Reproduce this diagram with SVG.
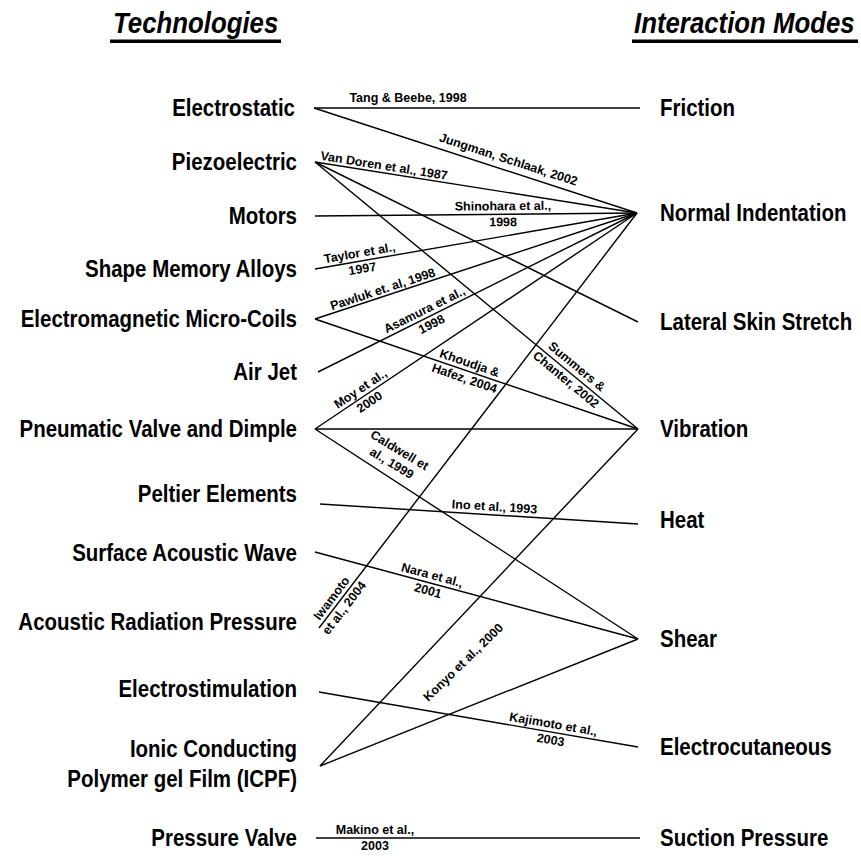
<svg xmlns="http://www.w3.org/2000/svg" width="861" height="857" viewBox="0 0 861 857">
<style>
.n text{font-family:"Liberation Sans",Arial,sans-serif;font-weight:bold;font-size:23px;fill:#000}
.l text{text-anchor:end}
.t text{font-family:"Liberation Sans",Arial,sans-serif;font-weight:bold;font-style:italic;font-size:30px;fill:#000}
.lb{font-family:"Liberation Sans",Arial,sans-serif;font-weight:bold;font-size:12.5px;fill:#000;text-anchor:middle}
#connectors line{stroke:#000;stroke-width:1.4;fill:none}
</style>
<rect width="861" height="857" fill="#fff"/>
<g id="title-technologies" class="t"><text transform="translate(113,33) scale(0.86,1)">Technologies</text><rect x="110" y="39.5" width="171" height="3.5" fill="#000"/></g>
<g id="title-modes" class="t"><text transform="translate(634,33) scale(0.86,1)">Interaction Modes</text><rect x="632" y="39.5" width="226" height="3.5" fill="#000"/></g>

<g id="connectors">
<line x1="314" y1="108" x2="640" y2="108"/>
<line x1="314" y1="108" x2="637" y2="213"/>
<line x1="315" y1="162" x2="637" y2="213"/>
<line x1="315" y1="162" x2="638" y2="322"/>
<line x1="315" y1="162" x2="638" y2="429"/>
<line x1="315" y1="216" x2="637" y2="213"/>
<line x1="315" y1="269" x2="637" y2="213"/>
<line x1="315" y1="319" x2="637" y2="213"/>
<line x1="315" y1="319" x2="638" y2="429"/>
<line x1="318" y1="372" x2="637" y2="213"/>
<line x1="315" y1="429" x2="637" y2="213"/>
<line x1="315" y1="429" x2="638" y2="429"/>
<line x1="315" y1="429" x2="638" y2="639"/>
<line x1="320" y1="504" x2="638" y2="524"/>
<line x1="315" y1="552" x2="638" y2="639"/>
<line x1="319" y1="628" x2="637" y2="213"/>
<line x1="320" y1="766" x2="638" y2="429"/>
<line x1="320" y1="766" x2="638" y2="639"/>
<line x1="319" y1="692" x2="638" y2="747"/>
<line x1="316" y1="838" x2="640" y2="838"/>
</g>

<g id="connector-labels">
<text class="lb" x="408" y="102">Tang &amp; Beebe, 1998</text>
<text class="lb" transform="translate(505,170.1) rotate(18)" y="-7">Jungman, Schlaak, 2002</text>
<text class="lb" transform="translate(383,172.8) rotate(9)" y="-3">Van Doren et al., 1987</text>
<g transform="translate(503,214.2) rotate(-0.5)"><text class="lb" y="-4">Shinohara et al.,</text><text class="lb" y="12">1998</text></g>
<g transform="translate(361,261) rotate(-9.87)"><text class="lb" y="-4">Taylor et al.,</text><text class="lb" y="12">1997</text></g>
<text class="lb" transform="translate(385,296) rotate(-18.2)" y="-3">Pawluk et. al, 1998</text>
<g transform="translate(428,317.2) rotate(-26.5)"><text class="lb" y="-4">Asamura et al.,</text><text class="lb" y="12">1998</text></g>
<g transform="translate(467,370.8) rotate(18.8)"><text class="lb" y="-4">Khoudja &amp;</text><text class="lb" y="12">Hafez, 2004</text></g>
<g transform="translate(571,373.6) rotate(39.6)"><text class="lb" y="-5">Summers &amp;</text><text class="lb" y="12">Chanter, 2002</text></g>
<g transform="translate(365,395.5) rotate(-33.85)"><text class="lb" y="-4">Moy et al.,</text><text class="lb" y="12">2000</text></g>
<g transform="translate(385,474.5) rotate(31)"><text class="lb" y="-24">Caldwell et</text><text class="lb" y="-9">al., 1999</text></g>
<text class="lb" transform="translate(494,514.9) rotate(3.6)" y="-4">Ino et al., 1993</text>
<g transform="translate(430,583) rotate(15.07)"><text class="lb" y="-4">Nara et al.,</text><text class="lb" y="12">2001</text></g>
<g transform="translate(338,603.2) rotate(-52.54)"><text class="lb" y="-4">Iwamoto</text><text class="lb" y="12">et al., 2004</text></g>
<text class="lb" transform="translate(463,662) rotate(-44)" y="4.5">Konyo et al., 2000</text>
<g transform="translate(552,732.2) rotate(9.78)"><text class="lb" y="-4">Kajimoto et al.,</text><text class="lb" y="12">2003</text></g>
<g transform="translate(375,838)"><text class="lb" y="-4">Makino et al.,</text><text class="lb" y="12">2003</text></g>
</g>

<g id="tech-electrostatic" class="n l"><text transform="translate(295,116) scale(0.89,1)">Electrostatic</text></g>
<g id="tech-piezoelectric" class="n l"><text transform="translate(297,170) scale(0.89,1)">Piezoelectric</text></g>
<g id="tech-motors" class="n l"><text transform="translate(297,224) scale(0.89,1)">Motors</text></g>
<g id="tech-sma" class="n l"><text transform="translate(297,277) scale(0.89,1)">Shape Memory Alloys</text></g>
<g id="tech-em" class="n l"><text transform="translate(297,327) scale(0.89,1)">Electromagnetic Micro-Coils</text></g>
<g id="tech-airjet" class="n l"><text transform="translate(297,380) scale(0.89,1)">Air Jet</text></g>
<g id="tech-pneumatic" class="n l"><text transform="translate(297,437) scale(0.89,1)">Pneumatic Valve and Dimple</text></g>
<g id="tech-peltier" class="n l"><text transform="translate(297,502) scale(0.89,1)">Peltier Elements</text></g>
<g id="tech-saw" class="n l"><text transform="translate(297,561) scale(0.89,1)">Surface Acoustic Wave</text></g>
<g id="tech-arp" class="n l"><text transform="translate(297,630) scale(0.89,1)">Acoustic Radiation Pressure</text></g>
<g id="tech-electrostim" class="n l"><text transform="translate(297,697) scale(0.89,1)">Electrostimulation</text></g>
<g id="tech-icpf" class="n l"><text transform="translate(297,757) scale(0.89,1)">Ionic Conducting</text><text transform="translate(297,787) scale(0.89,1)">Polymer gel Film (ICPF)</text></g>
<g id="tech-pressurevalve" class="n l"><text transform="translate(297,846) scale(0.89,1)">Pressure Valve</text></g>

<g id="mode-friction" class="n"><text transform="translate(660,116) scale(0.89,1)">Friction</text></g>
<g id="mode-normal" class="n"><text transform="translate(660,221) scale(0.89,1)">Normal Indentation</text></g>
<g id="mode-lateral" class="n"><text transform="translate(660,330) scale(0.89,1)">Lateral Skin Stretch</text></g>
<g id="mode-vibration" class="n"><text transform="translate(660,437) scale(0.89,1)">Vibration</text></g>
<g id="mode-heat" class="n"><text transform="translate(660,528) scale(0.89,1)">Heat</text></g>
<g id="mode-shear" class="n"><text transform="translate(660,647) scale(0.89,1)">Shear</text></g>
<g id="mode-electrocutaneous" class="n"><text transform="translate(660,755) scale(0.89,1)">Electrocutaneous</text></g>
<g id="mode-suction" class="n"><text transform="translate(660,846) scale(0.89,1)">Suction Pressure</text></g>
</svg>
